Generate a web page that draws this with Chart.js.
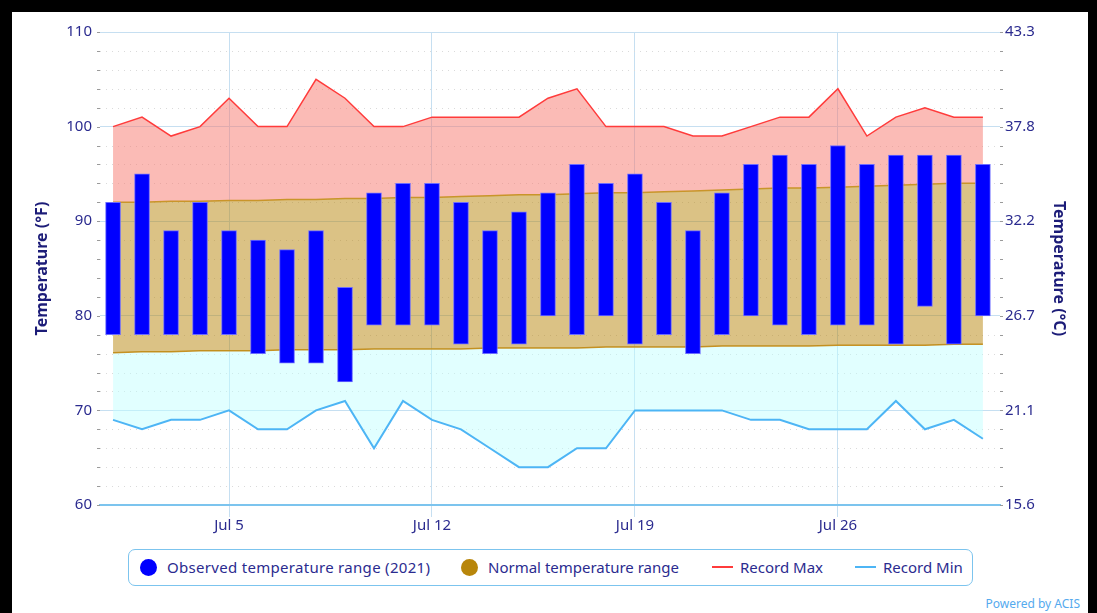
<!DOCTYPE html>
<html><head><meta charset="utf-8">
<script src="https://cdn.jsdelivr.net/npm/chart.js@4/dist/chart.umd.min.js"></script>
<style>
html,body{margin:0;padding:0;background:#000;width:1097px;height:613px;overflow:hidden;font-family:"Noto Sans",sans-serif;}
#panel{position:absolute;left:12px;top:12px;width:1076px;height:601px;background:#fff;}
#c{position:absolute;left:0;top:0;}
#legend{position:absolute;left:116px;top:537px;width:845px;height:37px;border:1.5px solid #7cc4ee;border-radius:7px;box-sizing:border-box;}
.item{position:absolute;top:0;height:34px;line-height:34px;font-size:15px;color:#2b2b8f;white-space:nowrap;}
.dot{position:absolute;top:9px;width:17px;height:17px;border-radius:50%;}
.ln{position:absolute;top:16px;width:21px;height:2px;}
#acis{position:absolute;right:8px;top:583px;font-size:12px;color:#55aaee;}
</style></head>
<body>
<div id="panel">
<canvas id="c" width="1076" height="530"></canvas>
<div id="legend">
  <div class="dot" style="left:11px;background:#0000ff"></div>
  <div class="item" style="left:38px;letter-spacing:0.3px">Observed temperature range (2021)</div>
  <div class="dot" style="left:332px;background:#b8860b"></div>
  <div class="item" style="left:359px">Normal temperature range</div>
  <div class="ln" style="left:583px;background:#ff3b3b"></div>
  <div class="item" style="left:611px">Record Max</div>
  <div class="ln" style="left:726px;background:#4db5f5"></div>
  <div class="item" style="left:754px">Record Min</div>
</div>
<div id="acis">Powered by ACIS</div>
</div>
<script>
const days = [1,2,3,4,5,6,7,8,9,10,11,12,13,14,15,16,17,18,19,20,21,22,23,24,25,26,27,28,29,30,31];
const obsLow  = [78,78,78,78,78,76,75,75,73,79,79,79,77,76,77,80,78,80,77,78,76,78,80,79,78,79,79,77,81,77,80];
const obsHigh = [92,95,89,92,89,88,87,89,83,93,94,94,92,89,91,93,96,94,95,92,89,93,96,97,96,98,96,97,97,97,96];
const normHigh = [92.0,92.0,92.1,92.1,92.2,92.2,92.3,92.3,92.4,92.4,92.5,92.5,92.6,92.7,92.8,92.8,92.9,93.0,93.0,93.1,93.2,93.3,93.4,93.5,93.5,93.6,93.7,93.8,93.9,94.0,94.0];
const normLow  = [76.1,76.2,76.2,76.3,76.3,76.3,76.4,76.4,76.4,76.5,76.5,76.5,76.5,76.6,76.6,76.6,76.6,76.7,76.7,76.7,76.7,76.8,76.8,76.8,76.8,76.9,76.9,76.9,76.9,77.0,77.0];
const recMax = [100,101,99,100,103,100,100,105,103,100,100,101,101,101,101,103,104,100,100,100,99,99,100,101,101,104,99,101,102,101,101];
const recMin = [69,68,69,69,70,68,68,70,71,66,71,69,68,66,64,64,66,66,70,70,70,70,69,69,68,68,68,71,68,69,67];
const xTickDays = [5,12,19,26];
const fTicks = [60,70,80,90,100,110];
const cTickLabels = ['15.6','21.1','26.7','32.2','37.8','43.3'];
const minorF = [62,64,66,68,72,74,76,78,82,84,86,88,92,94,96,98,102,104,106,108];

const labelColor = '#2b2b8f';
const titleColor = '#1c1c78';
const gridColor = '#c6dff1';
const f2c = f => (f - 32) * 5 / 9;

const pts = arr => days.map((d, i) => ({x: d, y: arr[i]}));

const minorGrid = {
  id: 'minorGrid',
  beforeDatasetsDraw(chart) {
    const {ctx, chartArea: a, scales: {y}} = chart;
    ctx.save();
    ctx.lineWidth = 1;
    ctx.strokeStyle = '#dadada';
    ctx.setLineDash([1, 5]);
    minorF.forEach(v => {
      const py = Math.round(y.getPixelForValue(v)) + 0.5;
      ctx.beginPath(); ctx.moveTo(a.left, py); ctx.lineTo(a.right, py); ctx.stroke();
    });
    ctx.setLineDash([]);
    ctx.strokeStyle = '#9a9a9a';
    minorF.concat(fTicks).forEach(v => {
      const py = Math.round(y.getPixelForValue(v)) + 0.5;
      ctx.beginPath(); ctx.moveTo(a.left - 3, py); ctx.lineTo(a.left, py); ctx.stroke();
      ctx.beginPath(); ctx.moveTo(a.right, py); ctx.lineTo(a.right + 3, py); ctx.stroke();
    });
    ctx.restore();
  }
};

new Chart(document.getElementById('c'), {
  type: 'line',
  data: {
    datasets: [
      {type: 'bar', label: 'Observed temperature range (2021)', data: days.map((d, i) => ({x: d, y: [obsLow[i], obsHigh[i]]})),
       backgroundColor: '#0000ff', borderColor: '#6b6bff', borderWidth: 1, borderSkipped: false, barThickness: 15, order: 0, yAxisID: 'y'},
      {label: 'Normal high', data: pts(normHigh), borderColor: '#c9952a', borderWidth: 1.5, pointRadius: 0, tension: 0,
       fill: {target: 2}, backgroundColor: 'rgba(184,134,11,0.5)', order: 2, yAxisID: 'y'},
      {label: 'Normal low', data: pts(normLow), borderColor: '#c9952a', borderWidth: 1.5, pointRadius: 0, tension: 0,
       fill: false, order: 2, yAxisID: 'y'},
      {label: 'Record Max', data: pts(recMax), borderColor: '#ff3b3b', borderWidth: 1.5, pointRadius: 0, tension: 0,
       fill: {target: 1}, backgroundColor: 'rgba(247,120,110,0.5)', order: 3, yAxisID: 'y'},
      {label: 'Record Min', data: pts(recMin), borderColor: '#4db5f5', borderWidth: 2, pointRadius: 0, tension: 0,
       fill: {target: 2}, backgroundColor: 'rgba(192,255,255,0.47)', order: 3, yAxisID: 'y'}
    ]
  },
  options: {
    responsive: false,
    animation: false,
    devicePixelRatio: 1,
    layout: {padding: {top: 20, left: 0, right: 0, bottom: 0}},
    plugins: {legend: {display: false}, tooltip: {enabled: false}},
    scales: {
      x: {
        type: 'linear', min: 0.55, max: 31.59, offset: false,
        afterBuildTicks: s => { s.ticks = xTickDays.map(v => ({value: v})); },
        ticks: {callback: v => 'Jul ' + v, color: labelColor, font: {family: 'Noto Sans', size: 15}, padding: 0, maxRotation: 0, autoSkip: false},
        grid: {color: gridColor, drawTicks: true, tickLength: 12, offset: false},
        border: {display: true, color: '#7cc4ee', width: 2},
        afterFit: s => { s.height = 37; }
      },
      y: {
        position: 'left', min: 60, max: 110,
        afterBuildTicks: s => { s.ticks = fTicks.map(v => ({value: v})); },
        ticks: {color: labelColor, font: {family: 'Noto Sans', size: 15}, padding: 8},
        grid: {color: gridColor, drawTicks: false},
        border: {display: false},
        title: {display: true, text: 'Temperature (°F)', color: titleColor, font: {family: 'Noto Sans', size: 16, weight: 'bold'}, padding: {top: 21, bottom: 0}},
        afterFit: s => { s.width = 88; }
      },
      y2: {
        position: 'right', min: f2c(60), max: f2c(110),
        afterBuildTicks: s => { s.ticks = fTicks.map(v => ({value: f2c(v)})); },
        ticks: {color: labelColor, font: {family: 'Noto Sans', size: 15}, padding: 5,
                callback: (v, i) => cTickLabels[i]},
        grid: {display: false, drawTicks: false},
        border: {display: false},
        title: {display: true, text: 'Temperature (°C)', color: titleColor, font: {family: 'Noto Sans', size: 16, weight: 'bold'}, padding: {top: 20, bottom: 0}},
        afterFit: s => { s.width = 88; }
      }
    }
  },
  plugins: [minorGrid]
});
</script>
</body></html>
